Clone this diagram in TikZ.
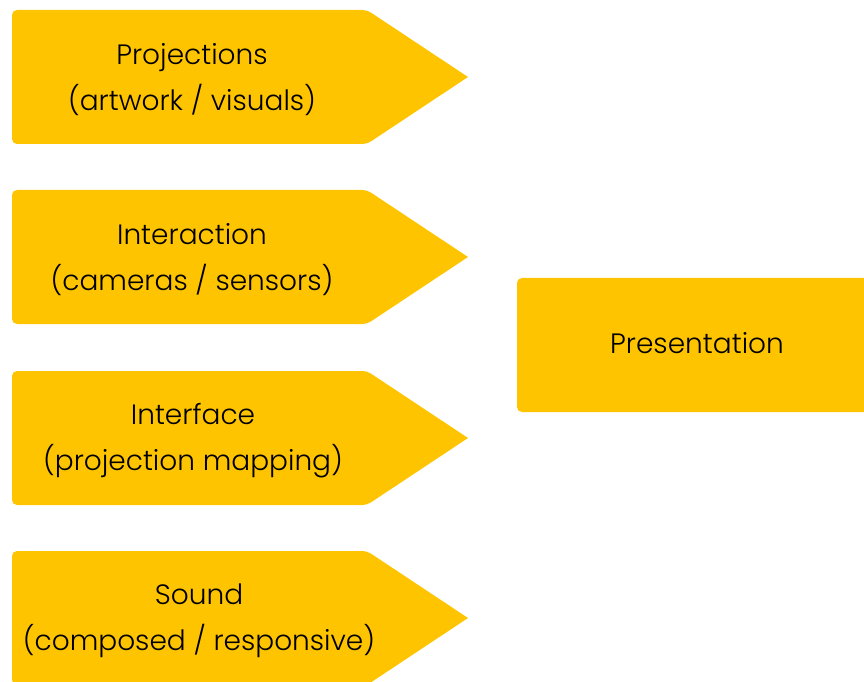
\documentclass[tikz,border=0pt]{standalone}
\usepackage{fontspec}
\setmainfont{Poppins}[UprightFont=* Light]
\definecolor{gold}{HTML}{FFC400}
\tikzset{
  chevshape/.style={fill=gold},
  boxlabel/.style={align=center, text=black, inner sep=0pt,
    font=\fontsize{28}{46}\selectfont},
}
% one chevron: #1 = top edge (y), #2 = name, #3 = text x, #4 = text
\newcommand\chevron[4]{%
  \pgfmathsetmacro\ctop{#1}%
  \pgfmathsetmacro\cbot{#1-134}%
  \pgfmathsetmacro\cmid{#1-67}%
  \fill[chevshape, rounded corners=5pt]
    (12,\cbot) -- (12,\ctop) -- (367,\ctop) [sharp corners] -- (468,\cmid)
    [rounded corners=5pt] -- (367,\cbot) -- cycle;
  \node[boxlabel] (#2) at (#3,\cmid-3) {#4};
}
\begin{document}
\begin{tikzpicture}[x=1pt,y=1pt]
  \useasboundingbox (0,0) rectangle (864,681);
  \chevron{671}{proj}{192}{Projections\\(artwork / visuals)}
  \chevron{491}{inter}{192}{Interaction\\(cameras / sensors)}
  \chevron{310}{iface}{193}{Interface\\(projection mapping)}
  \chevron{130}{sound}{199}{Sound\\(composed / responsive)}
  \fill[gold, rounded corners=5pt] (517,269) rectangle (880,403);
  \node[boxlabel] (pres) at (697,338) {Presentation};
\end{tikzpicture}
\end{document}
